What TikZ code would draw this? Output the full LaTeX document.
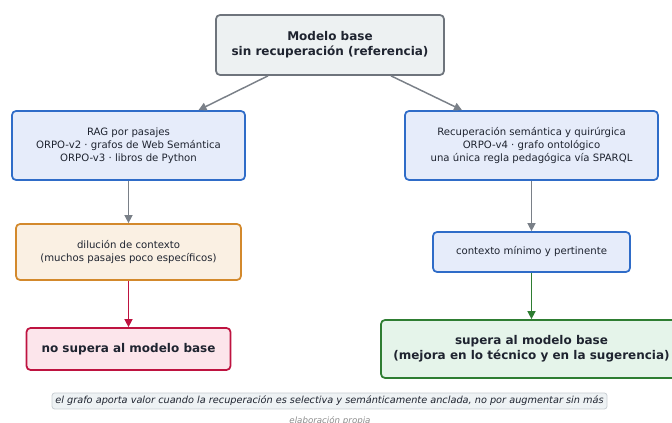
\documentclass[tikz,border=0pt]{standalone}
\usepackage{fontspec}
\setmainfont{DejaVu Sans}
\usetikzlibrary{arrows.meta}
\definecolor{txt}{HTML}{1F2430}
\definecolor{grayfill}{HTML}{EDF1F2}
\definecolor{grayline}{HTML}{6E747C}
\definecolor{bluefill}{HTML}{E6ECFA}
\definecolor{blueline}{HTML}{2F6CC8}
\definecolor{orangefill}{HTML}{FAF0E3}
\definecolor{orangeline}{HTML}{D3892C}
\definecolor{redfill}{HTML}{FCE5EB}
\definecolor{redline}{HTML}{BE1340}
\definecolor{greenfill}{HTML}{E5F4EA}
\definecolor{greenline}{HTML}{2E7D32}
\definecolor{arrowgray}{HTML}{7A8088}
\definecolor{notefill}{HTML}{EEF2F4}
\definecolor{noteline}{HTML}{C9CED3}
\tikzset{
  box/.style={draw, rounded corners=3pt, line width=1.3pt, align=center,
    inner sep=0pt, text=txt},
  titlebox/.style={box, fill=grayfill, draw=grayline,
    font=\fontsize{9}{11.2}\selectfont\bfseries},
  infobox/.style={box, fill=bluefill, draw=blueline,
    font=\fontsize{7.6}{9.7}\selectfont},
  warnbox/.style={box, fill=orangefill, draw=orangeline,
    font=\fontsize{7.6}{9.7}\selectfont},
  failbox/.style={box, fill=redfill, draw=redline,
    font=\fontsize{9}{11.2}\selectfont\bfseries},
  passbox/.style={box, fill=greenfill, draw=greenline,
    font=\fontsize{9}{11.2}\selectfont\bfseries},
  arr/.style={-{Triangle[length=6pt,width=6pt]}, line width=1.1pt, draw=arrowgray},
  redarr/.style={arr, draw=redline},
  greenarr/.style={arr, draw=greenline},
}
\begin{document}
\begin{tikzpicture}[x=0.75pt, y=-0.75pt]
\useasboundingbox (0,0) rectangle (672,423);

\node[titlebox, minimum width=228*0.75pt, minimum height=60*0.75pt] (base) at (330,45)
  {Modelo base\\sin recuperación (referencia)};

\node[infobox, minimum width=233*0.75pt, minimum height=69*0.75pt] (rag) at (128.5,145.5)
  {RAG por pasajes\\ORPO-v2 · grafos de Web Semántica\\ORPO-v3 · libros de Python};

\node[infobox, minimum width=253*0.75pt, minimum height=69*0.75pt] (sem) at (531.5,145.5)
  {Recuperación semántica y quirúrgica\\ORPO-v4 · grafo ontológico\\una única regla pedagógica vía SPARQL};

\node[warnbox, minimum width=225*0.75pt, minimum height=56*0.75pt] (dil) at (128.5,252)
  {dilución de contexto\\(muchos pasajes poco específicos)};

\node[infobox, minimum width=197*0.75pt, minimum height=40*0.75pt] (ctx) at (531.5,252)
  {contexto mínimo y pertinente};

\node[failbox, minimum width=204*0.75pt, minimum height=42*0.75pt] (fail) at (128.5,349)
  {no supera al modelo base};

\node[passbox, minimum width=301*0.75pt, minimum height=58*0.75pt] (pass) at (531.5,349)
  {supera al modelo base\\(mejora en lo técnico y en la sugerencia)};

\node[draw=noteline, fill=notefill, rounded corners=2pt, line width=0.6pt,
  minimum width=555*0.75pt, minimum height=16*0.75pt, inner sep=0pt,
  font=\fontsize{7.3}{8.5}\selectfont\itshape, text=txt] (note) at (329.5,401)
  {el grafo aporta valor cuando la recuperación es selectiva y semánticamente anclada, no por augmentar sin más};

\node[font=\fontsize{6.5}{8}\selectfont\itshape, text=black!45, anchor=north, inner sep=0pt]
  (src) at (330,416) {elaboración propia};

\draw[arr] ([xshift=-62*0.75pt]base.south) -- ([xshift=70*0.75pt]rag.north);
\draw[arr] ([xshift=61*0.75pt]base.south) -- ([xshift=-69.5*0.75pt]sem.north);
\draw[arr] (rag.south) -- (dil.north);
\draw[arr] (sem.south) -- (ctx.north);
\draw[redarr] (dil.south) -- (fail.north);
\draw[greenarr] (ctx.south) -- (pass.north);
\end{tikzpicture}
\end{document}
